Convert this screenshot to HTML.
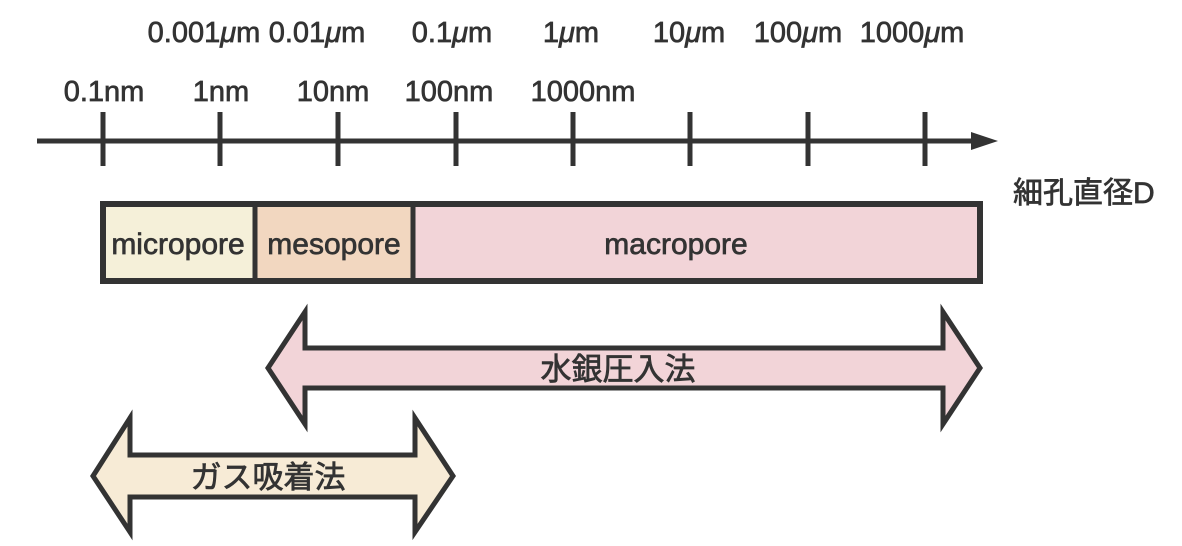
<!DOCTYPE html>
<html><head><meta charset="utf-8"><style>
html,body{margin:0;padding:0;background:#fff;}
svg{display:block;}
text{font-family:"Liberation Sans","Noto Sans CJK JP",sans-serif;fill:#333;stroke:#333;stroke-width:0.7;}
</style></head><body>
<svg width="1182" height="546" viewBox="0 0 1182 546" xmlns="http://www.w3.org/2000/svg">
<g font-size="29" text-anchor="middle">
<text x="204" y="42">0.001<tspan font-style="italic">μ</tspan>m</text>
<text x="317" y="42">0.01<tspan font-style="italic">μ</tspan>m</text>
<text x="452" y="42">0.1<tspan font-style="italic">μ</tspan>m</text>
<text x="571" y="42">1<tspan font-style="italic">μ</tspan>m</text>
<text x="689" y="42">10<tspan font-style="italic">μ</tspan>m</text>
<text x="798" y="42">100<tspan font-style="italic">μ</tspan>m</text>
<text x="912" y="42">1000<tspan font-style="italic">μ</tspan>m</text>
<text x="104" y="101">0.1nm</text>
<text x="221" y="101">1nm</text>
<text x="333" y="101">10nm</text>
<text x="449" y="101">100nm</text>
<text x="583" y="101">1000nm</text>
</g>
<line x1="37" y1="141" x2="975" y2="141" stroke="#333" stroke-width="5"/>
<polygon points="971,132 998,141 971,150" fill="#333"/>
<g stroke="#333" stroke-width="5">
<line x1="103" y1="112" x2="103" y2="166"/>
<line x1="220" y1="112" x2="220" y2="166"/>
<line x1="338" y1="112" x2="338" y2="166"/>
<line x1="456" y1="112" x2="456" y2="166"/>
<line x1="573" y1="112" x2="573" y2="166"/>
<line x1="690" y1="112" x2="690" y2="166"/>
<line x1="808" y1="112" x2="808" y2="166"/>
<line x1="925" y1="112" x2="925" y2="166"/>
</g>
<text x="1013" y="203" font-size="30">細孔直径D</text>
<rect x="103" y="204" width="152" height="77" fill="#f5f0d9"/>
<rect x="255" y="204" width="158" height="77" fill="#f2d7c0"/>
<rect x="413" y="204" width="567" height="77" fill="#f2d4d8"/>
<rect x="103" y="204" width="877" height="77" fill="none" stroke="#333" stroke-width="6"/>
<line x1="255" y1="204" x2="255" y2="281" stroke="#333" stroke-width="5"/>
<line x1="413" y1="204" x2="413" y2="281" stroke="#333" stroke-width="5"/>
<g font-size="30" text-anchor="middle">
<text x="178" y="254">micropore</text>
<text x="334" y="254">mesopore</text>
<text x="676" y="254">macropore</text>
</g>
<polygon points="268,368 305,312 305,348 943,348 943,312 980,368 943,424 943,388 305,388 305,424" fill="#f2d4d8" stroke="#333" stroke-width="5" stroke-linejoin="miter"/>
<text x="618" y="380" font-size="31" text-anchor="middle">水銀圧入法</text>
<polygon points="93,476 130,418 130,455 415,455 415,418 453,476 415,532 415,497 130,497 130,532" fill="#f7ebd6" stroke="#333" stroke-width="5" stroke-linejoin="miter"/>
<text x="268" y="488" font-size="31" text-anchor="middle">ガス吸着法</text>
</svg>
</body></html>
